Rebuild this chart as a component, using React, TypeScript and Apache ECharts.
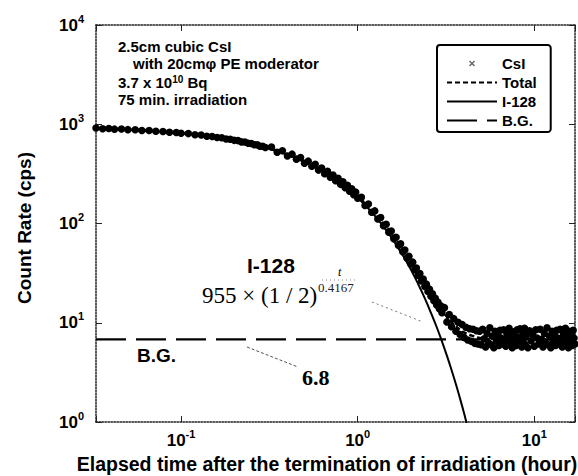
import React, { useEffect, useRef } from "react";
import * as echarts from "echarts";

const SANS = '"Liberation Sans", Arial, Helvetica, sans-serif';
const SERIF = '"Liberation Serif", "Times New Roman", serif';

// Measured CsI count rate [elapsed hour, cps]
const csiData: [number, number][] = [
  [0.033, 915], [0.036, 902], [0.039, 905], [0.042, 893], [0.046, 894], [0.05, 882], [0.055, 880], [0.06, 866],
  [0.066, 864], [0.072, 850], [0.079, 846], [0.086, 831], [0.094, 826], [0.1, 812], [0.11, 805], [0.12, 785],
  [0.13, 779], [0.14, 758], [0.15, 754], [0.16, 735], [0.17, 730], [0.18, 710], [0.19, 706], [0.2, 688],
  [0.21, 684], [0.22, 664], [0.23, 662], [0.24, 643], [0.25, 641], [0.26, 622], [0.27, 620], [0.28, 601],
  [0.29, 600], [0.3, 582],
  [0.325, 590], [0.35, 522], [0.375, 540], [0.4, 478], [0.425, 500], [0.45, 445], [0.475, 462], [0.5, 405],
  [0.525, 425], [0.55, 377], [0.575, 395], [0.6, 345], [0.625, 362], [0.65, 318], [0.675, 336], [0.7, 292],
  [0.725, 308], [0.75, 270], [0.775, 285], [0.8, 248], [0.825, 263], [0.85, 229], [0.875, 243], [0.9, 211],
  [0.925, 224], [0.95, 195], [0.975, 207], [1.0, 180],
  [1.05, 184], [1.1, 152], [1.15, 157], [1.2, 130], [1.25, 134], [1.3, 111], [1.35, 115], [1.4, 95],
  [1.45, 98], [1.5, 81.5], [1.55, 84], [1.6, 70], [1.65, 72.5], [1.7, 60.2], [1.75, 62.5], [1.8, 52],
  [1.85, 54], [1.9, 45], [1.95, 46.8], [2.0, 39.1], [2.05, 40.8], [2.1, 34.1], [2.15, 35.6], [2.2, 29.9],
  [2.25, 31.3], [2.3, 26.3], [2.35, 27.6], [2.4, 23.2], [2.45, 24.5], [2.5, 20.6], [2.55, 21.8], [2.6, 18.5],
  [2.65, 19.6], [2.7, 16.7], [2.75, 17.7], [2.8, 15.1], [2.85, 16.1], [2.9, 13.8], [2.95, 14.8], [3.0, 12.6],
  [3.1, 14.2], [3.2, 10.2], [3.3, 12.1], [3.4, 9.1], [3.5, 11.0], [3.6, 8.2], [3.7, 10.1], [3.8, 7.6],
  [3.9, 9.6], [4.0, 7.1], [4.1, 9.0], [4.2, 6.7], [4.3, 8.7], [4.4, 6.5], [4.5, 8.6], [4.6, 6.2],
  [4.7, 8.3], [4.8, 6.1], [4.9, 8.2], [5.0, 6.0],
  [5.1, 8.6], [5.2, 6.9], [5.3, 5.7], [5.4, 7.8], [5.5, 6.3], [5.6, 8.9], [5.7, 6.0], [5.8, 7.3],
  [5.9, 5.6], [6.0, 8.2], [6.1, 6.6], [6.2, 7.6], [6.3, 5.9], [6.4, 8.4], [6.5, 7.0], [6.6, 6.1],
  [6.7, 8.5], [6.8, 6.8], [6.9, 5.8], [7.0, 7.7], [7.1, 6.4], [7.2, 8.8], [7.3, 6.1], [7.4, 7.2],
  [7.5, 5.6], [7.6, 8.1], [7.7, 6.7], [7.8, 7.5], [7.9, 5.9], [8.0, 8.5], [8.1, 7.1], [8.2, 6.2],
  [8.3, 8.7], [8.4, 6.9], [8.5, 5.7], [8.6, 7.9], [8.7, 6.3], [8.8, 8.8], [8.9, 6.0], [9.0, 7.4],
  [9.2, 5.6], [9.4, 8.3], [9.6, 6.6], [9.8, 7.6], [10.0, 5.8], [10.2, 8.5], [10.4, 7.0], [10.6, 6.1],
  [10.8, 8.6], [11.0, 6.8], [11.2, 5.7], [11.4, 7.8], [11.6, 6.3], [11.8, 8.9], [12.0, 6.0], [12.2, 7.3],
  [12.4, 5.6], [12.6, 8.2], [12.8, 6.6], [13.0, 7.6], [13.2, 5.9], [13.4, 8.4], [13.6, 7.0], [13.8, 6.1],
  [14.0, 8.6], [14.2, 6.9], [14.4, 5.7], [14.6, 7.8], [14.8, 6.3], [15.0, 8.8], [15.2, 6.0], [15.4, 7.3],
  [15.6, 5.6], [15.8, 8.2], [16.0, 6.6], [16.2, 7.6], [16.4, 5.9], [16.6, 8.4], [16.8, 7.0], [17.0, 6.1],
];

// Total fit (I-128 + background)
const totalTime = [0.033, 0.05, 0.07, 0.1, 0.15, 0.2, 0.3, 0.4, 0.5, 0.6, 0.7, 0.8, 0.9, 1.0, 1.2, 1.4, 1.6, 1.8,
  2.0, 2.2, 2.4, 2.6, 2.8, 3.0, 3.2, 3.4, 3.6, 3.8, 4.0, 4.5, 5, 6, 8, 12, 17];
const totalRate = [911, 886, 857, 816, 751, 692, 587, 498, 423, 359, 305, 259, 221, 188, 137, 99.8, 73.5, 54.6,
  41.1, 31.4, 24.4, 19.4, 15.9, 13.3, 11.5, 10.1, 9.2, 8.5, 8.0, 7.35, 7.0, 6.85, 6.8, 6.8, 6.8];

// I-128 decay component: 955 x (1/2)^(t/0.4167)
const i128Time = [0.033, 0.05, 0.07, 0.1, 0.15, 0.2, 0.3, 0.4, 0.5, 0.6, 0.7, 0.8, 0.9, 1.0, 1.2, 1.4, 1.6, 1.8,
  2.0, 2.2, 2.4, 2.6, 2.8, 3.0, 3.2, 3.4, 3.6, 3.8, 4.0, 4.1, 4.2];
const i128Rate = [904, 879, 850, 809, 744, 685, 580, 491, 416, 352, 298, 252, 214, 181, 130, 93.0, 66.7, 47.8,
  34.3, 24.6, 17.6, 12.6, 9.06, 6.5, 4.66, 3.34, 2.4, 1.72, 1.23, 1.04, 0.88];

// Background
const bgTime = [0.033, 17];
const bgRate = [6.8, 6.8];

const seriesNames = ["CsI", "Total", "I-128", "B.G."];

const X_MIN = 0.033;
const X_MAX = 17;
const Y_MIN = 1;
const Y_MAX = 10000;

const zip = (a: number[], b: number[]) => a.map((v, i) => [v, b[i]]);

const powLabel = (v: number) => {
  const e = Math.log10(v);
  const r = Math.round(e);
  if (Math.abs(e - r) > 1e-6) return "";
  return `{b|10}{s|${r}}`;
};

const labelRich = {
  b: { fontSize: 17, fontWeight: "bold", fontFamily: SANS, color: "#000", lineHeight: 24 },
  s: { fontSize: 11, fontWeight: "bold", fontFamily: SANS, color: "#000", lineHeight: 12, verticalAlign: "top" },
};

const frameLine = { show: true, lineStyle: { color: "#222", width: 1.5, type: "dotted" } };
const innerTick = { show: true, inside: true, length: 6, lineStyle: { color: "#222", width: 1 } };

export default function App() {
  const ref = useRef<HTMLDivElement>(null);

  useEffect(() => {
    if (!ref.current) return;
    const chart = echarts.init(ref.current, null, { renderer: "svg" });

    const hiddenSymbol = { opacity: 0 };

    const option: any = {
      animation: false,
      backgroundColor: "#fff",
      grid: { left: 96, right: 1, top: 25, bottom: 54 },
      legend: {
        orient: "vertical",
        left: 437,
        top: 45,
        itemWidth: 50,
        itemHeight: 14,
        itemGap: 4,
        padding: [11, 14, 4, 9],
        borderColor: "#000",
        borderWidth: 2,
        borderRadius: 3,
        backgroundColor: "#fff",
        textStyle: { fontFamily: SANS, fontWeight: "bold", fontSize: 15, color: "#000" },
        data: [
          {
            name: seriesNames[0],
            icon: "path://M0,0 M50,14 M22,5 L23,4 L25,6 L27,4 L28,5 L26,7 L28,9 L27,10 L25,8 L23,10 L22,9 L24,7 Z",
            itemStyle: { color: "#666", borderWidth: 0, opacity: 1 },
          },
          { name: seriesNames[1], itemStyle: hiddenSymbol },
          { name: seriesNames[2], itemStyle: hiddenSymbol },
          { name: seriesNames[3], itemStyle: hiddenSymbol },
        ],
      },
      xAxis: [
        {
          type: "log",
          logBase: 10,
          min: X_MIN,
          max: X_MAX,
          position: "bottom",
          axisLine: frameLine,
          axisTick: innerTick,
          splitLine: { show: false },
          axisLabel: { formatter: powLabel, rich: labelRich, margin: 6, showMinLabel: true, showMaxLabel: true },
        },
        {
          type: "log",
          logBase: 10,
          min: X_MIN,
          max: X_MAX,
          position: "top",
          axisLine: frameLine,
          axisTick: innerTick,
          splitLine: { show: false },
          axisLabel: { show: false },
        },
      ],
      yAxis: [
        {
          type: "log",
          logBase: 10,
          min: Y_MIN,
          max: Y_MAX,
          position: "left",
          axisLine: frameLine,
          axisTick: innerTick,
          splitLine: { show: false },
          axisLabel: { formatter: powLabel, rich: labelRich, margin: 12 },
        },
        {
          type: "log",
          logBase: 10,
          min: Y_MIN,
          max: Y_MAX,
          position: "right",
          axisLine: frameLine,
          axisTick: innerTick,
          splitLine: { show: false },
          axisLabel: { show: false },
        },
      ],
      series: [
        {
          name: seriesNames[0],
          type: "scatter",
          data: csiData,
          symbol: "circle",
          symbolSize: 7.5,
          itemStyle: { color: "#000", borderWidth: 0, opacity: 1 },
          z: 3,
        },
        {
          name: seriesNames[1],
          type: "line",
          data: zip(totalTime, totalRate),
          showSymbol: false,
          symbol: "none",
          smooth: true,
          lineStyle: { color: "#000", width: 2.5, type: [5, 3] },
          itemStyle: { color: "#000" },
          z: 2,
        },
        {
          name: seriesNames[2],
          type: "line",
          data: zip(i128Time, i128Rate),
          showSymbol: false,
          symbol: "none",
          smooth: true,
          lineStyle: { color: "#000", width: 2 },
          itemStyle: { color: "#000" },
          z: 4,
        },
        {
          name: seriesNames[3],
          type: "line",
          data: zip(bgTime, bgRate),
          showSymbol: false,
          symbol: "none",
          lineStyle: { color: "#000", width: 2.2, type: [30, 10] },
          itemStyle: { color: "#000" },
          z: 2,
        },
      ],
      graphic: [
        // Axis titles
        {
          type: "text",
          x: 327,
          y: 464,
          style: {
            text: "Elapsed time after the termination of irradiation (hour)",
            fontFamily: SANS, fontWeight: "bold", fontSize: 19.5, fill: "#000",
            align: "center", verticalAlign: "middle",
          },
        },
        {
          type: "text",
          x: 24,
          y: 228,
          rotation: Math.PI / 2,
          style: {
            text: "Count Rate (cps)",
            fontFamily: SANS, fontWeight: "bold", fontSize: 19, fill: "#000",
            align: "center", verticalAlign: "middle",
          },
        },
        // Experimental conditions
        {
          type: "text", x: 118, y: 46,
          style: { text: "2.5cm cubic CsI", fontFamily: SANS, fontWeight: "bold", fontSize: 15, fill: "#000", verticalAlign: "middle" },
        },
        {
          type: "text", x: 133, y: 63,
          style: { text: "with 20cmφ PE moderator", fontFamily: SANS, fontWeight: "bold", fontSize: 15, fill: "#000", verticalAlign: "middle" },
        },
        {
          type: "text", x: 118, y: 82,
          style: {
            text: "3.7 x 10{s|10} Bq",
            fontFamily: SANS, fontWeight: "bold", fontSize: 15, fill: "#000", verticalAlign: "middle",
            rich: { s: { fontFamily: SANS, fontWeight: "bold", fontSize: 10, verticalAlign: "top", lineHeight: 10 } },
          },
        },
        {
          type: "text", x: 118, y: 99,
          style: { text: "75 min. irradiation", fontFamily: SANS, fontWeight: "bold", fontSize: 15, fill: "#000", verticalAlign: "middle" },
        },
        // Component labels
        {
          type: "text", x: 247, y: 265,
          style: { text: "I-128", fontFamily: SANS, fontWeight: "bold", fontSize: 21, fill: "#000", verticalAlign: "middle" },
        },
        {
          type: "text", x: 202, y: 295,
          style: { text: "955 × (1 / 2)", fontFamily: SERIF, fontSize: 23, fill: "#000", verticalAlign: "middle" },
        },
        {
          type: "text", x: 318, y: 287,
          style: { text: "0.4167", fontFamily: SERIF, fontSize: 13, fill: "#222", verticalAlign: "middle" },
        },
        {
          type: "text", x: 338, y: 272,
          style: { text: "t", fontFamily: SERIF, fontStyle: "italic", fontSize: 12, fill: "#000", verticalAlign: "middle" },
        },
        {
          type: "line",
          shape: { x1: 322, y1: 280, x2: 357, y2: 280 },
          style: { stroke: "#888", lineWidth: 1, lineDash: [1, 3] },
        },
        {
          type: "line",
          shape: { x1: 372, y1: 302, x2: 423, y2: 322 },
          style: { stroke: "#777", lineWidth: 1, lineDash: [2, 3] },
        },
        {
          type: "text", x: 137, y: 355,
          style: { text: "B.G.", fontFamily: SANS, fontWeight: "bold", fontSize: 19, fill: "#000", verticalAlign: "middle" },
        },
        {
          type: "text", x: 302, y: 377,
          style: { text: "6.8", fontFamily: SERIF, fontWeight: "bold", fontSize: 22, fill: "#000", verticalAlign: "middle" },
        },
        {
          type: "line",
          shape: { x1: 247, y1: 347, x2: 298, y2: 367 },
          style: { stroke: "#555", lineWidth: 1, lineDash: [3, 2] },
        },
      ],
    };

    chart.setOption(option);
    return () => chart.dispose();
  }, []);

  return (
    <div
      ref={ref}
      style={{ position: "absolute", left: 0, top: 0, width: 578, height: 476, background: "#fff" }}
    />
  );
}
